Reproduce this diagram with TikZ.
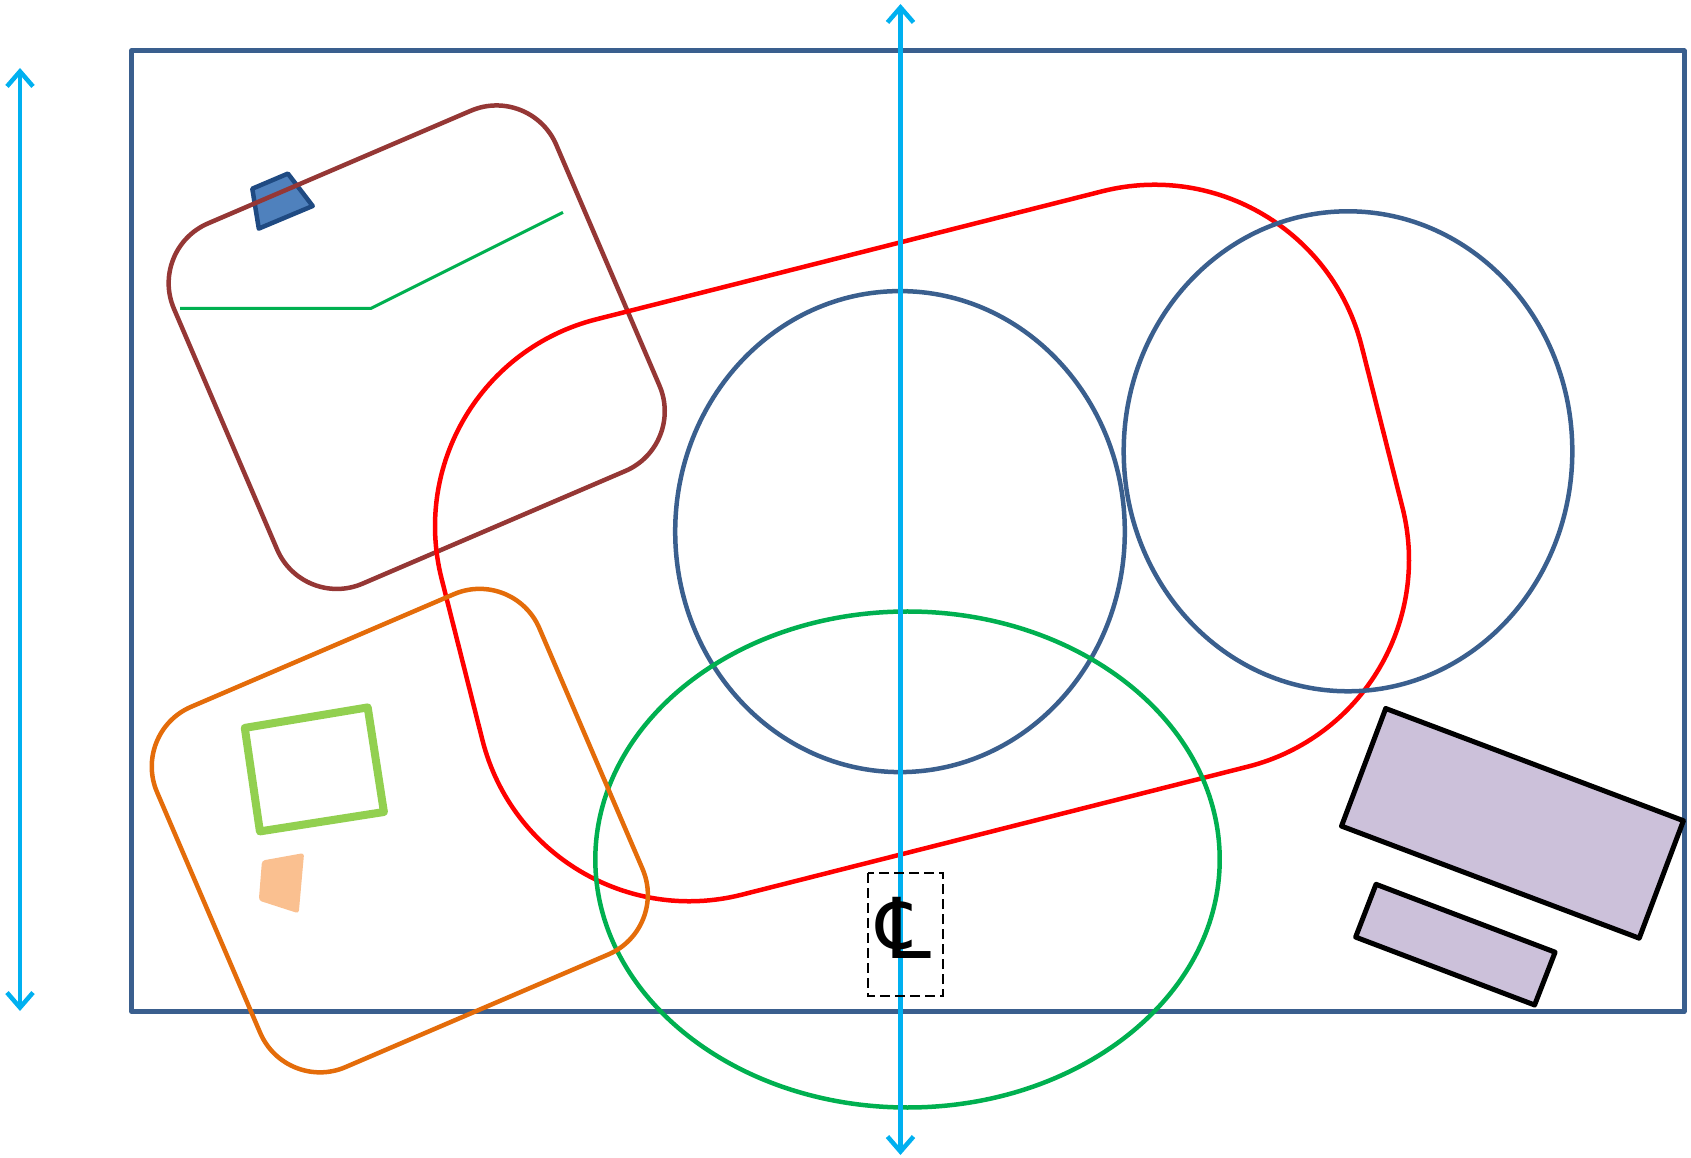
\documentclass[tikz,border=0pt]{standalone}
\usepackage{fontspec}
\newfontfamily\clfont{DejaVu Sans}
\usepackage{tikz}
\usetikzlibrary{arrows.meta, shapes.geometric}
\definecolor{frameblue}{HTML}{3A5F8E}
\definecolor{arrowcyan}{HTML}{00B0F0}
\definecolor{ringgreen}{HTML}{00B050}
\definecolor{boxbrown}{HTML}{953735}
\definecolor{boxorange}{HTML}{E46C0A}
\definecolor{leafgreen}{HTML}{92D050}
\definecolor{peach}{HTML}{FAC090}
\definecolor{lavender}{HTML}{CCC1DA}
\definecolor{tileblue}{HTML}{4F81BD}
\definecolor{tileedge}{HTML}{1F4A82}
\tikzset{
	roundbox/.style={
			draw,
			line width=4.5pt,
			rounded corners=65pt,
			minimum width=416pt,
			minimum height=392pt,
			inner sep=0pt,
			rotate=23.2
		},
	ovalnode/.style={
			ellipse,
			draw=frameblue,
			line width=4.5pt,
			inner sep=0pt
		},
	dimarrow/.style={
			draw=arrowcyan,
			line width=4.5pt,
			<->,
			>={Straight Barb[length=15pt,width=26pt]}
		},
	platebox/.style={
			draw=black,
			fill=lavender,
			line width=5pt,
			line join=round
		}
}
\begin{document}
\begin{tikzpicture}[x=1pt, y=1pt]
\useasboundingbox (0,0) rectangle (1691,1157);
\draw[frameblue, line width=5pt, line join=round] (131.6,145.5) rectangle (1684,1106.3);

\draw[draw=tileedge, fill=tileblue, line width=4.5pt, line join=round]
  (252.3,968.3) -- (287.9,983.4) -- (312.7,951) -- (258.8,928.4) -- cycle;
\node[roundbox, draw=boxbrown] (brownbox) at (416.7,809.8) {};
\draw[ringgreen, line width=3pt] (180,848.6) -- (371,848.6) -- (563,944.6);

\node[draw=red, line width=4.5pt, rounded corners=213.5pt, minimum width=949pt,
  minimum height=593.5pt, inner sep=0pt, rotate=14.2] (redband) at (922,614) {};

\node[ovalnode, minimum width=449.6pt, minimum height=481pt] (ovalmid) at (900,625.4) {};
\node[ovalnode, minimum width=448.6pt, minimum height=480pt] (ovalright) at (1348,705.7) {};
\node[ovalnode, draw=ringgreen, minimum width=624.4pt, minimum height=496pt] (ovalgreen) at (907.5,297.5) {};

\node[roundbox, draw=boxorange] (orangebox) at (399.8,326.4) {};

\draw[leafgreen, line width=8pt, line join=round]
  (244.8,429.1) -- (367.7,449.6) -- (383.9,345) -- (259.9,325.6) -- cycle;
\draw[fill=peach, draw=none, rounded corners=3pt]
  (262,296.4) -- (304.1,304) -- (298.7,243.6) -- (258.8,256.5) -- cycle;

\draw[platebox] (1385.7,448.5) -- (1683.4,336.3) -- (1639.2,218.8) -- (1341.5,330.9) -- cycle;
\draw[platebox] (1376,272.7) -- (1555.1,204.8) -- (1534.6,152) -- (1355.6,219.9) -- cycle;

% dimension arrows
\coordinate (ltop) at (20,1089);
\coordinate (lbot) at (20,146);
\coordinate (ctop) at (900.5,1153);
\coordinate (cbot) at (900.5,2);
\draw[dimarrow] (ltop) -- (lbot);
\draw[dimarrow] (ctop) -- (cbot);

\draw[black, line width=1.8pt, dash pattern=on 10pt off 5pt] (868,284) rectangle (943,161);
\node[font=\clfont\fontsize{84}{84}\selectfont, inner sep=0pt] (cline) at (904,229) {℄};
\end{tikzpicture}
\end{document}
